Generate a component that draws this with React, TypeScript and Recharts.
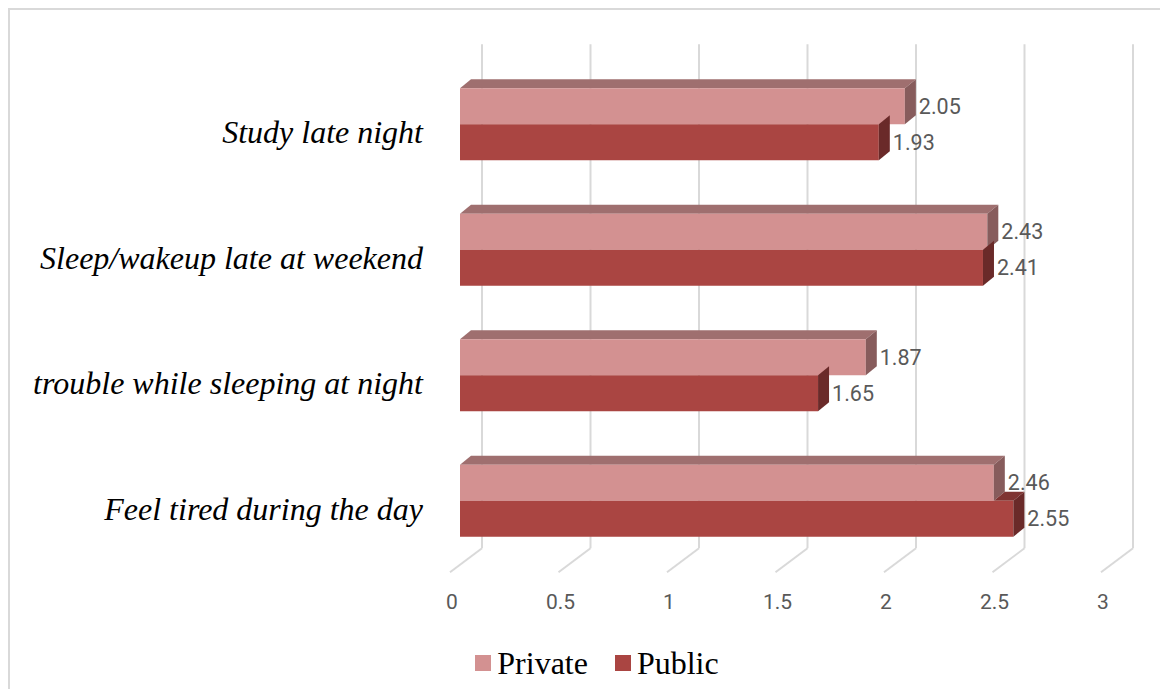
import React from 'react';
import { BarChart, Bar, XAxis, YAxis, CartesianGrid, Legend, LabelList } from 'recharts';

const categories = [
  'Study late night',
  'Sleep/wakeup late at weekend',
  'trouble while sleeping at night',
  'Feel tired during the day',
];
const privateValues = [2.05, 2.43, 1.87, 2.46];
const publicValues = [1.93, 2.41, 1.65, 2.55];
const xTicks = [0, 0.5, 1, 1.5, 2, 2.5, 3];

const data = categories.map((name, i) => ({
  name,
  Private: privateValues[i],
  Public: publicValues[i],
}));

const DX = 11;
const DY = 9;
const PRIVATE_FRONT = '#d39191';
const PRIVATE_TOP = '#9f6f6f';
const PRIVATE_SIDE = '#875c5c';
const PUBLIC_FRONT = '#aa4542';
const PUBLIC_TOP = '#7f3432';
const PUBLIC_SIDE = '#6a2a29';
const GRID = '#d9d9d9';

function PrivateShape(props: any) {
  const { x, y, width: w, height: h } = props;
  return (
    <g>
      <polygon points={`${x},${y} ${x + DX},${y - DY} ${x + w + DX},${y - DY} ${x + w},${y}`} fill={PRIVATE_TOP} />
      <rect x={x} y={y} width={w} height={h} fill={PRIVATE_FRONT} />
      <polygon points={`${x + w},${y} ${x + w + DX},${y - DY} ${x + w + DX},${y + h - DY} ${x + w},${y + h}`} fill={PRIVATE_SIDE} />
    </g>
  );
}

function PublicShape(props: any) {
  const { x, y, width: w, height: h, payload } = props;
  const pw = (w * payload.Private) / payload.Public;
  return (
    <g>
      {pw < w ? (
        <polygon points={`${x + pw},${y} ${x + pw + DX},${y - DY} ${x + w + DX},${y - DY} ${x + w},${y}`} fill={PUBLIC_TOP} />
      ) : null}
      <rect x={x} y={y} width={w} height={h} fill={PUBLIC_FRONT} />
      <polygon points={`${x + w},${y} ${x + w + DX},${y - DY} ${x + w + DX},${y + h - DY} ${x + w},${y + h}`} fill={PUBLIC_SIDE} />
    </g>
  );
}

const renderValueLabel = (p: any) => {
  const { x, y, width, height, value } = p;
  return (
    <text
      x={x + width + DX + 3}
      y={y + height / 2}
      dominantBaseline="central"
      textAnchor="start"
      fontFamily="Roboto, 'Liberation Sans', sans-serif"
      fontSize={21.5}
      fill="#595959"
    >
      {value}
    </text>
  );
};

const renderGridLine = (p: any) => {
  const { x1, y1, y2 } = p;
  return (
    <g key={`g-${x1}`}>
      <line x1={x1 + 22} y1={y1 - 17} x2={x1 + 22} y2={y2 - 15} stroke={GRID} strokeWidth={2} />
      <line x1={x1 + 22} y1={y2 - 15} x2={x1 - 10} y2={y2 + 9} stroke={GRID} strokeWidth={2} />
    </g>
  );
};

const XTick = (p: any) => {
  const { x, y, payload } = p;
  return (
    <text
      x={x - 8}
      y={y + 38}
      textAnchor="middle"
      fontFamily="Roboto, 'Liberation Sans', sans-serif"
      fontSize={21}
      fill="#595959"
    >
      {payload.value}
    </text>
  );
};

const YTick = (p: any) => {
  const { x, y, payload } = p;
  return (
    <text
      x={x}
      y={y + 19}
      textAnchor="end"
      fontFamily="'Liberation Serif', 'Times New Roman', serif"
      fontStyle="italic"
      fontSize={32}
      fill="#000000"
    >
      {payload.value}
    </text>
  );
};

const LegendContent = () => (
  <div
    style={{
      height: 40,
      display: 'flex',
      justifyContent: 'center',
      alignItems: 'center',
      paddingLeft: 63,
      fontFamily: "'Liberation Serif', 'Times New Roman', serif",
      fontSize: 32,
      color: '#000',
    }}
  >
    {[
      { label: 'Private', color: PRIVATE_FRONT },
      { label: 'Public', color: PUBLIC_FRONT },
    ].map((it, i) => (
      <div key={it.label} style={{ display: 'flex', alignItems: 'center', marginLeft: i === 0 ? 0 : 27 }}>
        <span style={{ display: 'inline-block', width: 16, height: 16, background: it.color, marginRight: 6 }} />
        <span>{it.label}</span>
      </div>
    ))}
  </div>
);

export default function App() {
  return (
    <div
      style={{
        width: 1150,
        height: 679,
        borderLeft: `2px solid ${GRID}`,
        borderTop: `2px solid ${GRID}`,
        background: '#fff',
        position: 'relative',
      }}
    >
      <BarChart
        width={1150}
        height={679}
        data={data}
        layout="vertical"
        margin={{ top: 51.25, right: 49, bottom: 6, left: 10 }}
        barCategoryGap={27}
        barGap={0}
      >
        <CartesianGrid horizontal={false} vertical={renderGridLine} />
        <XAxis
          type="number"
          domain={[0, 3]}
          ticks={xTicks}
          axisLine={false}
          tickLine={false}
          height={79.75}
          tick={<XTick />}
          interval={0}
        />
        <YAxis
          type="category"
          dataKey="name"
          width={440}
          axisLine={false}
          tickLine={false}
          tickMargin={31}
          tick={<YTick />}
          interval={0}
        />
        <Legend verticalAlign="bottom" content={<LegendContent />} />
        <Bar dataKey="Private" fill={PRIVATE_FRONT} shape={<PrivateShape />} isAnimationActive={false}>
          <LabelList dataKey="Private" content={renderValueLabel} />
        </Bar>
        <Bar dataKey="Public" fill={PUBLIC_FRONT} shape={<PublicShape />} isAnimationActive={false}>
          <LabelList dataKey="Public" content={renderValueLabel} />
        </Bar>
      </BarChart>
    </div>
  );
}
